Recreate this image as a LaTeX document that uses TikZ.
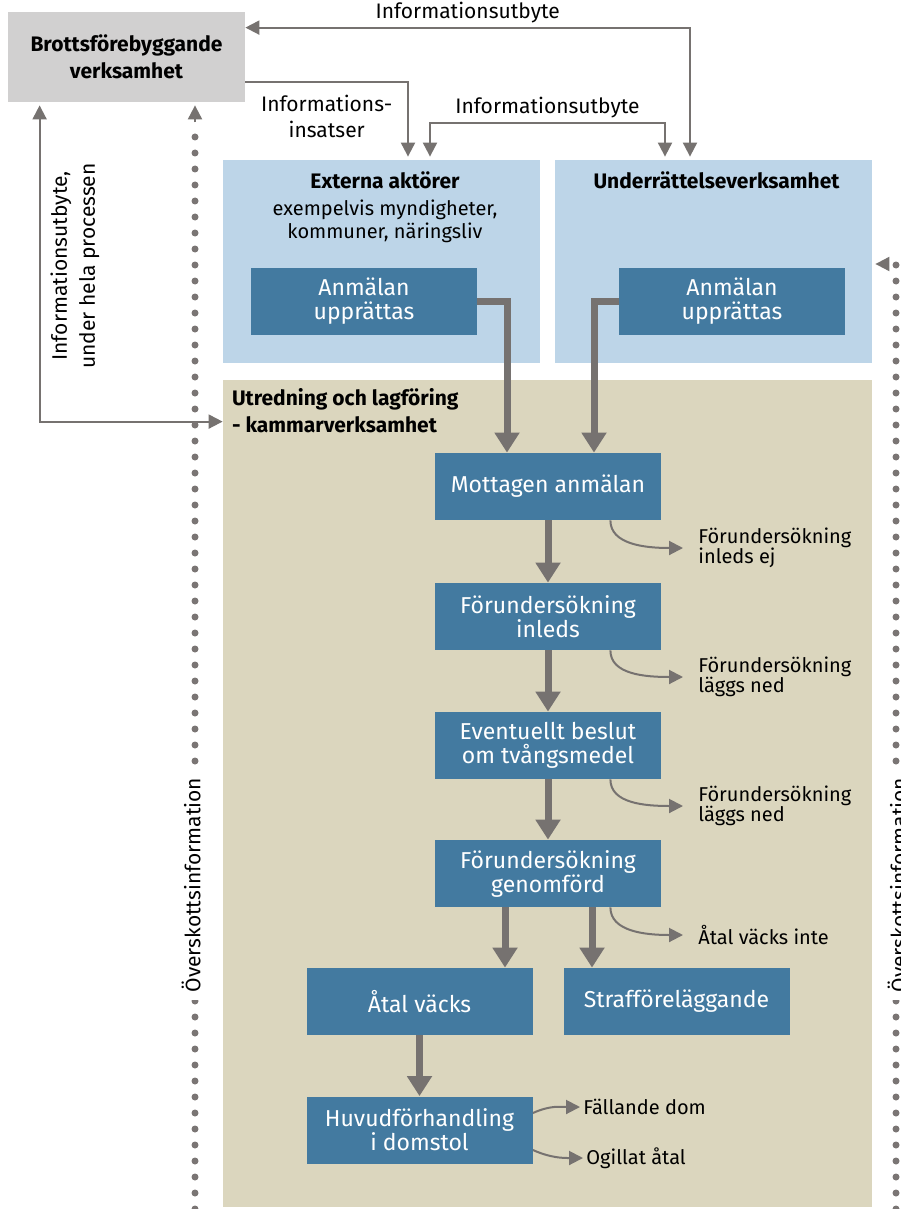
\documentclass[tikz,border=0pt]{standalone}
\usepackage{fontspec}
\setmainfont{Fira Sans}
\usetikzlibrary{arrows.meta, positioning, calc}

\definecolor{boxblue}{HTML}{437AA0}
\definecolor{paneblue}{HTML}{BDD5E8}
\definecolor{panekhaki}{HTML}{DBD6BE}
\definecolor{panegray}{HTML}{D1D0D0}
\definecolor{arrgray}{HTML}{767270}
\definecolor{dotgray}{HTML}{7A7574}

\tikzset{
  pane/.style={fill=#1, inner sep=0pt},
  stepbox/.style={fill=boxblue, text=white, minimum width=113pt, minimum height=33.5pt,
    align=center, inner sep=0pt, font=\fontsize{11.5}{12}\selectfont},
  flow/.style={draw=arrgray, line width=3.5pt, -{Triangle[width=12pt,length=10pt]}},
  info/.style={draw=arrgray, line width=1pt, >={Triangle[width=7pt,length=7pt]}},
  lbl/.style={font=\fontsize{10.5}{13}\selectfont, inner sep=2pt},
  side/.style={font=\fontsize{10}{10}\selectfont, align=left, anchor=west, inner sep=1.5pt},
  dotline/.style={draw=dotgray, line width=3.5pt, line cap=round, dash pattern=on 0pt off 8pt},
  titlefont/.style={font=\bfseries\fontsize{10.5}{13.5}\selectfont}
}

\begin{document}
\begin{tikzpicture}[x=0.5pt, y=-0.5pt]
\fill[white] (0,0) rectangle (900,1209);
\useasboundingbox (0,0) rectangle (900,1209);

% define the areas
  \node[pane=panegray, minimum width=118.5pt, minimum height=45pt, titlefont, align=center]
    (brott) at (126.5,57) {Brottsförebyggande\\verksamhet};
  \node[pane=paneblue, minimum width=158.5pt, minimum height=101.5pt] (ext) at (381.5,261.5) {};
  \node[pane=paneblue, minimum width=158.5pt, minimum height=101.5pt] (und) at (713.5,261.5) {};
  \node[pane=panekhaki, minimum width=324.5pt, minimum height=413.5pt] (utr) at (547.5,793.5) {};

  \node[titlefont] (extT) at ($(ext.north)+(3.5,21)$) {Externa aktörer};
  \node[font=\fontsize{10}{11.5}\selectfont, align=center] (extS) at ($(ext.north)+(3.5,61.5)$)
    {exempelvis myndigheter,\\kommuner, näringsliv};
  \node[titlefont] (undT) at ($(und.north)+(3,21)$) {Underrättelseverksamhet};
  \node[titlefont, anchor=north west, align=left, inner sep=0pt] (utrT) at ($(utr.north west)+(9,8)$)
    {Utredning och lagföring\\- kammarverksamhet};

% define the steps
  \node[stepbox] (anm1) at (364,301.5) {Anmälan\\upprättas};
  \node[stepbox] (anm2) at (732,301.5) {Anmälan\\upprättas};
  \node[stepbox] (mott) at (548,486.5) {Mottagen anmälan};
  \node[stepbox] (inleds) at (548,616.5) {Förundersökning\\inleds};
  \node[stepbox] (beslut) at (548,745.5) {Eventuellt beslut\\om tvångsmedel};
  \node[stepbox] (genomf) at (548,873.5) {Förundersökning\\genomförd};
  \node[stepbox] (atal) at (419.5,1001.5) {Åtal väcks};
  \node[stepbox] (straff) at (676.5,1001.5) {Strafföreläggande};
  \node[stepbox] (huvud) at (419.5,1130) {Huvudförhandling\\i domstol};

% outcomes
  \node[side] (lab1) at (695,548) {Förundersökning\\inleds ej};
  \node[side] (lab2) at (695,677) {Förundersökning\\läggs ned};
  \node[side] (lab3) at (695,806) {Förundersökning\\läggs ned};
  \node[side] (lab4) at (695,935) {Åtal väcks inte};
  \node[side] (fall) at (580,1107) {Fällande dom};
  \node[side] (ogill) at (583,1158) {Ogillat åtal};

% define the links
  \draw[flow] (anm1.east) -| ($(mott.north)+(-41,0)$);
  \draw[flow] (anm2.west) -| ($(mott.north)+(46,0)$);
  \draw[flow] (mott.south) -- (inleds.north);
  \draw[flow] (inleds.south) -- (beslut.north);
  \draw[flow] (beslut.south) -- (genomf.north);
  \draw[flow] ($(genomf.south)+(-43,0)$) -- ($(atal.north)+(85.5,0)$);
  \draw[flow] ($(genomf.south)+(44,0)$) -- ($(straff.north)+(-84.5,0)$);
  \draw[flow] (atal.south) -- (huvud.north);

  \draw[info, ->, shorten >=6pt] ($(mott.south east)+(-51,0)$) .. controls +(0,24) and +(-50,0) .. (lab1.west);
  \draw[info, ->, shorten >=6pt] ($(inleds.south east)+(-51,0)$) .. controls +(0,24) and +(-50,0) .. (lab2.west);
  \draw[info, ->, shorten >=6pt] ($(beslut.south east)+(-51,0)$) .. controls +(0,24) and +(-50,0) .. (lab3.west);
  \draw[info, ->, shorten >=6pt] ($(genomf.south east)+(-51,0)$) .. controls +(0,24) and +(-50,0) .. (lab4.west);
  \draw[info, ->] ($(huvud.east)+(0,-17)$) .. controls +(18,-8) and +(-20,0) .. (fall.west);
  \draw[info, ->] ($(huvud.east)+(0,20)$) .. controls +(18,8) and +(-20,0) .. (ogill.west);

  \draw[info, <->, shorten >=1.5pt] ($(brott.north east)+(0,16)$)
    -| node[pos=0.25, above, lbl] {Informationsutbyte} ($(und.north)+(-23.5,0)$);
  \draw[info, ->, shorten >=1.5pt] ($(brott.south east)+(0,-20)$)
    -| node[pos=0.25, below=4pt, lbl, align=center] {Informations-\\insatser} ($(ext.north)+(26.5,0)$);
  \draw[info, <->, shorten <=1.5pt, shorten >=1.5pt] ($(ext.north)+(48.5,0)$) -- ++(0,-37)
    -| node[pos=0.25, above, lbl] {Informationsutbyte} ($(und.north)+(-48.5,0)$);
  \draw[info, <->, shorten <=1.5pt] ($(brott.south west)+(32,0)$) |- ($(utr.north west)+(0,42)$);
  \node[lbl, rotate=90, align=center, font=\fontsize{10.5}{14}\selectfont] (procT) at (75,266)
    {Informationsutbyte,\\under hela processen};

% surplus information
  \coordinate (dotL) at (195,1209);
  \coordinate (dotR) at (896,1209);
  \coordinate (dotRtop) at (896,264);
  \draw[dotline] (dotL) -- ($(brott.south -| dotL)+(0,30)$);
  \draw[info, ->, shorten >=1.5pt] ($(brott.south -| dotL)+(0,20)$) -- (brott.south -| dotL);
  \draw[dotline] (dotR) -- (dotRtop);
  \draw[info, ->, shorten >=1.5pt] ($(dotRtop)+(-8,0)$) -- (und.east |- dotRtop);
  \node[lbl, rotate=90, fill=white, inner sep=4pt] (overL) at (191,885) {Överskottsinformation};
  \node[lbl, rotate=90, fill=white, inner sep=4pt] (overR) at (897,885) {Överskottsinformation};

\end{tikzpicture}
\end{document}
